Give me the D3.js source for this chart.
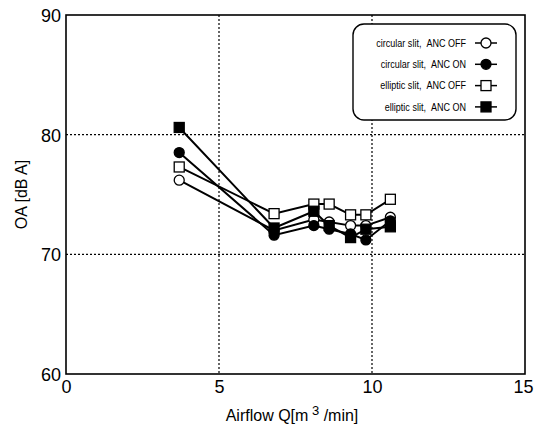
<!DOCTYPE html>
<html>
<head>
<meta charset="utf-8">
<script src="https://cdn.jsdelivr.net/npm/d3@7"></script>
<style>
body{margin:0;background:#fff;}
svg{display:block;font-family:"Liberation Sans",Arial,sans-serif;}
</style>
</head>
<body>
<svg id="chart" width="534" height="432"></svg>
<script>
const airflow = [3.7, 6.8, 8.1, 8.6, 9.3, 9.8, 10.6];
const circularOff = [76.2, 72.0, 72.9, 72.7, 72.4, 72.4, 73.1];
const circularOn  = [78.5, 71.6, 72.4, 72.1, 71.7, 71.2, 72.8];
const ellipticOff = [77.3, 73.4, 74.2, 74.2, 73.3, 73.3, 74.6];
const ellipticOn  = [80.6, 72.2, 73.6, 72.4, 71.4, 72.1, 72.3];
const seriesNames = ["circular slit,\u00a0\u00a0ANC OFF", "circular slit,\u00a0\u00a0ANC ON", "elliptic slit,\u00a0\u00a0ANC OFF", "elliptic slit,\u00a0\u00a0ANC ON"];
const xTicks = [0, 5, 10, 15];
const yTicks = [60, 70, 80, 90];

const series = [
  {name: seriesNames[0], values: circularOff, shape: "circle", fill: "#fff"},
  {name: seriesNames[1], values: circularOn, shape: "circle", fill: "#000"},
  {name: seriesNames[2], values: ellipticOff, shape: "square", fill: "#fff"},
  {name: seriesNames[3], values: ellipticOn, shape: "square", fill: "#000"}
];

const svg = d3.select("#chart");
const L = 66, R = 525, T = 15, B = 374;
const x = d3.scaleLinear().domain([0, 15]).range([L, R]);
const y = d3.scaleLinear().domain([60, 90]).range([B, T]);

// grid
const grid = svg.append("g");
grid.selectAll("line.v").data(xTicks.filter(d => d > 0 && d < 15)).enter().append("line")
  .attr("x1", d => x(d)).attr("x2", d => x(d)).attr("y1", T).attr("y2", B)
  .attr("stroke", "#000").attr("stroke-width", 1.2).attr("stroke-dasharray", "2,2");
grid.selectAll("line.h").data(yTicks.filter(d => d > 60 && d < 90)).enter().append("line")
  .attr("x1", L).attr("x2", R).attr("y1", d => y(d)).attr("y2", d => y(d))
  .attr("stroke", "#000").attr("stroke-width", 1.2).attr("stroke-dasharray", "2,2");

// axes
const xAxis = d3.axisBottom(x).tickValues(xTicks).tickSize(0).tickPadding(6);
const yAxis = d3.axisLeft(y).tickValues(yTicks).tickSize(0).tickPadding(5);
const gx = svg.append("g").attr("transform", `translate(0,${B})`).call(xAxis);
const gy = svg.append("g").attr("transform", `translate(${L},0)`).call(yAxis);
[gx, gy].forEach(g => {
  g.select(".domain").remove();
  g.selectAll("text").attr("font-size", 18).attr("fill", "#000").attr("font-family", "Liberation Sans, Arial, sans-serif");
});
gy.selectAll("text").attr("dy", "0.36em");
gx.selectAll("text").filter(d => d === 15).attr("text-anchor", "end").attr("dx", 8);

// frame
svg.append("rect").attr("x", L).attr("y", T).attr("width", R - L).attr("height", B - T)
  .attr("fill", "none").attr("stroke", "#000").attr("stroke-width", 1.6);

// axis titles
svg.append("text").attr("transform", `translate(27,${(T + B) / 2}) rotate(-90)`)
  .attr("text-anchor", "middle").attr("font-size", 16).text("OA [dB A]");
const xt = svg.append("text").attr("x", 292).attr("y", 421).attr("text-anchor", "middle").attr("font-size", 16);
xt.append("tspan").text("Airflow Q[m");
xt.append("tspan").attr("dy", -6).attr("font-size", 13).text("\u00a03");
xt.append("tspan").attr("dy", 6).text("\u00a0/min]");

// lines
const line = d3.line().x((d, i) => x(airflow[i])).y(d => y(d));
const S = 10;
function marker(g, s) {
  if (s.shape === "circle") {
    g.append("circle").attr("r", S / 2).attr("fill", s.fill).attr("stroke", "#000").attr("stroke-width", 1.3);
  } else {
    g.append("rect").attr("x", -S / 2).attr("y", -S / 2).attr("width", S).attr("height", S)
      .attr("fill", s.fill).attr("stroke", "#000").attr("stroke-width", 1.3);
  }
}
series.forEach(s => {
  svg.append("path").datum(s.values).attr("d", line).attr("fill", "none").attr("stroke", "#000").attr("stroke-width", 2);
});
series.forEach(s => {
  s.values.forEach((v, i) => {
    const g = svg.append("g").attr("transform", `translate(${x(airflow[i])},${y(v)})`);
    marker(g, s);
  });
});

// legend
const lg = svg.append("g");
lg.append("rect").attr("x", 353).attr("y", 24).attr("width", 163).attr("height", 96).attr("rx", 11)
  .attr("fill", "#fff").attr("stroke", "#000").attr("stroke-width", 1.4);
series.forEach((s, i) => {
  const yy = 43 + i * 21.3;
  lg.append("text").attr("transform", `translate(466,${yy}) scale(0.86,1)`).attr("dy", "0.35em").attr("text-anchor", "end")
    .attr("font-size", 10.5).text(s.name);
  lg.append("line").attr("x1", 475).attr("x2", 497).attr("y1", yy).attr("y2", yy).attr("stroke", "#000").attr("stroke-width", 1.5);
  const g = lg.append("g").attr("transform", `translate(486,${yy})`);
  marker(g, s);
});
</script>
</body>
</html>
